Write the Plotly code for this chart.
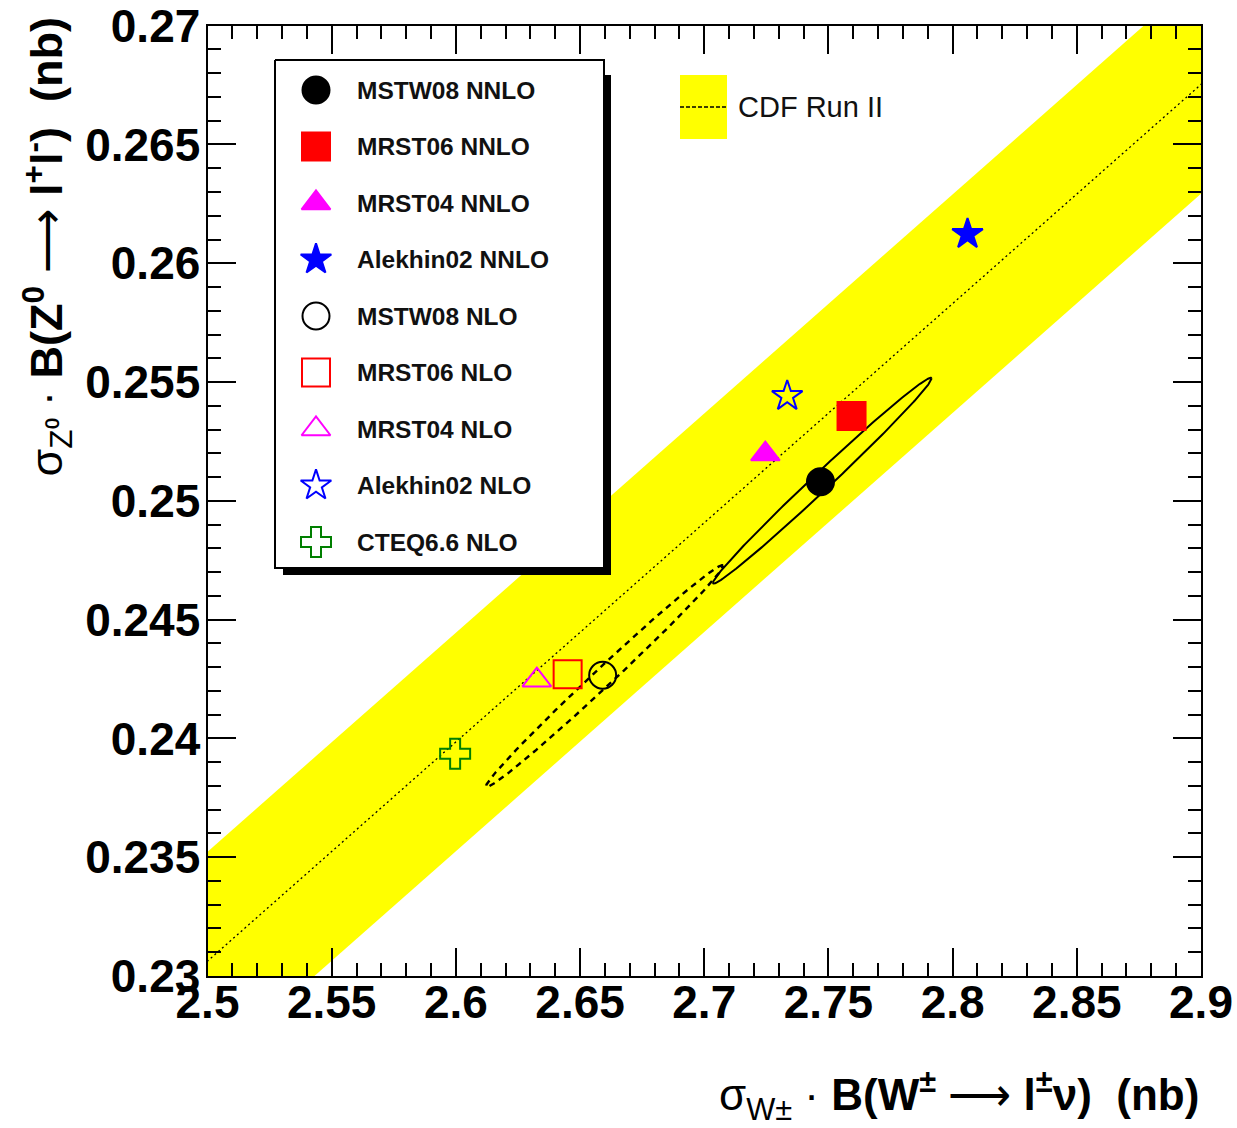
import numpy as np
import plotly.graph_objects as go

W, H = 1237, 1128

# ---------------- data ----------------
pdf_labels = ["MSTW08 NNLO", "MRST06 NNLO", "MRST04 NNLO", "Alekhin02 NNLO",
              "MSTW08 NLO", "MRST06 NLO", "MRST04 NLO", "Alekhin02 NLO", "CTEQ6.6 NLO"]
sigma_w = [2.7468, 2.7593, 2.7246, 2.8060, 2.6591, 2.6450, 2.6326, 2.7334, 2.5997]
sigma_z = [0.25080, 0.25357, 0.25197, 0.26123, 0.24266, 0.24270, 0.24245, 0.25441, 0.23936]

# CDF Run II: ratio line sigma_Z*B = sigma_W*B / R, with band half-width in sigma_Z*B
cdf_x_ends = [2.45, 2.95]
cdf_ratio_central = 10.84
cdf_band_halfwidth = 0.0046

# MSTW08 uncertainty ellipses: centre x, centre y, sigma x, sigma y, correlation
ell_nnlo = [2.7475, 0.25085, 0.0440, 0.00433, 0.9930]
ell_nlo = [2.6598, 0.24262, 0.0477, 0.00467, 0.9935]

x_tick_vals = [2.5, 2.55, 2.6, 2.65, 2.7, 2.75, 2.8, 2.85, 2.9]
x_tick_text = ["2.5", "2.55", "2.6", "2.65", "2.7", "2.75", "2.8", "2.85", "2.9"]
y_tick_vals = [0.23, 0.235, 0.24, 0.245, 0.25, 0.255, 0.26, 0.265, 0.27]
y_tick_text = ["0.23", "0.235", "0.24", "0.245", "0.25", "0.255", "0.26", "0.265", "0.27"]

# ---------------- styles ----------------
symbols = ["circle", "square", "triangle-up", "star", "circle-open", "square-open",
           "triangle-up-open", "star-open", "cross-open"]
colors = ["black", "#ff0000", "#ff00ff", "#0000ff", "black", "#ff0000", "#ff00ff",
          "#0000ff", "#007f00"]
msizes = [27, 28, 25, 23, 27, 28, 25, 23, 25]

FONT = "Liberation Sans, Arial, Helvetica, sans-serif"

# frame in pixels
FX0, FX1 = 207.5, 1201.0
FY0, FY1 = 25.7, 976.0

fig = go.Figure()

# CDF band
xb = np.array(cdf_x_ends)
yc = xb / cdf_ratio_central
band_x = list(xb) + list(xb[::-1]) + [xb[0]]
band_y = list(yc + cdf_band_halfwidth) + list(yc[::-1] - cdf_band_halfwidth) + [yc[0] + cdf_band_halfwidth]
fig.add_trace(go.Scatter(x=band_x, y=band_y, fill="toself", fillcolor="#ffff00",
                         line=dict(width=0), mode="lines", showlegend=False, hoverinfo="skip"))
fig.add_trace(go.Scatter(x=list(xb), y=list(yc), mode="lines",
                         line=dict(color="black", width=1.3, dash="2px,3px"),
                         showlegend=False, hoverinfo="skip"))


def ellipse(p):
    cx, cy, sx, sy, rho = p
    t = np.linspace(0, 2 * np.pi, 300)
    return cx + sx * np.cos(t), cy + sy * (rho * np.cos(t) + np.sqrt(1 - rho ** 2) * np.sin(t))


ex, ey = ellipse(ell_nlo)
fig.add_trace(go.Scatter(x=ex, y=ey, mode="lines", line=dict(color="black", width=2.4, dash="6px,5px"),
                         showlegend=False, hoverinfo="skip"))
ex, ey = ellipse(ell_nnlo)
fig.add_trace(go.Scatter(x=ex, y=ey, mode="lines", line=dict(color="black", width=2),
                         showlegend=False, hoverinfo="skip"))

for i in range(len(pdf_labels)):
    fig.add_trace(go.Scatter(
        x=[sigma_w[i]], y=[sigma_z[i]], mode="markers", name=pdf_labels[i],
        marker=dict(symbol=symbols[i], size=msizes[i], color=colors[i],
                    line=dict(color=colors[i], width=2)),
        showlegend=False))

# ---------------- manual legend (pixel overlay subplot) ----------------
LX0, LX1, LY0, LY1 = 275, 604, 60, 568
SH = 7
fig.add_trace(go.Scatter(x=[LX0 + SH + 1, LX1 + SH, LX1 + SH, LX0 + SH + 1, LX0 + SH + 1],
                         y=[LY0 + SH + 8, LY0 + SH + 8, LY1 + SH, LY1 + SH, LY0 + SH + 8],
                         xaxis="x2", yaxis="y2", fill="toself", fillcolor="black",
                         line=dict(width=0), mode="lines", showlegend=False, hoverinfo="skip"))
fig.add_trace(go.Scatter(x=[LX0, LX1, LX1, LX0, LX0], y=[LY0, LY0, LY1, LY1, LY0],
                         xaxis="x2", yaxis="y2", fill="toself", fillcolor="white",
                         line=dict(color="black", width=2), mode="lines",
                         showlegend=False, hoverinfo="skip"))
row0, dy = 90, 56.5
for i in range(len(pdf_labels)):
    yy = row0 + i * dy
    fig.add_trace(go.Scatter(
        x=[316], y=[yy], xaxis="x2", yaxis="y2", mode="markers",
        marker=dict(symbol=symbols[i], size=msizes[i], color=colors[i],
                    line=dict(color=colors[i], width=2)),
        showlegend=False, hoverinfo="skip"))
    fig.add_annotation(x=355, y=yy, xref="x2", yref="y2", text=pdf_labels[i],
                       showarrow=False, xanchor="left", yanchor="middle",
                       font=dict(family=FONT, size=24.5, color="#111111", weight="bold"))

# CDF legend
fig.add_trace(go.Scatter(x=[680, 727, 727, 680, 680], y=[75, 75, 139, 139, 75],
                         xaxis="x2", yaxis="y2", fill="toself", fillcolor="#ffff00",
                         line=dict(width=0), mode="lines", showlegend=False, hoverinfo="skip"))
fig.add_trace(go.Scatter(x=[680, 727], y=[107, 107], xaxis="x2", yaxis="y2", mode="lines",
                         line=dict(color="black", width=1.5, dash="4px,2px"),
                         showlegend=False, hoverinfo="skip"))
fig.add_annotation(x=736, y=107, xref="x2", yref="y2", text="CDF Run II", showarrow=False,
                   xanchor="left", yanchor="middle",
                   font=dict(family=FONT, size=29, color="#111111"))

# ---------------- axis titles ----------------
fig.add_annotation(x=FX1 / W, y=1 - 1095 / H, xref="paper", yref="paper",
                   text="σ<sub>W±</sub> · <b>B(W<sup>±</sup></b> ⟶ <b>l<sup>±</sup>ν)  (nb)</b>",
                   showarrow=False, xanchor="right", yanchor="middle",
                   font=dict(family=FONT, size=44, color="black"))
fig.add_annotation(x=46 / W, y=1 - 16 / H, xref="paper", yref="paper",
                   text="σ<sub>Z⁰</sub> · <b>B(Z<sup>0</sup></b> ⟶ <b>l<sup>+</sup>l<sup>-</sup>)  (nb)</b>",
                   showarrow=False, xanchor="center", yanchor="top", textangle=-90,
                   font=dict(family=FONT, size=45, color="black"))

axis_common = dict(ticks="inside", ticklen=28, tickwidth=2, tickcolor="black",
                   showline=True, linewidth=2, linecolor="black", mirror="allticks",
                   showgrid=False, zeroline=False, fixedrange=True, automargin=False,
                   ticklabeloverflow="allow",
                   tickfont=dict(family=FONT, size=46, color="black", weight="bold"))

fig.update_layout(
    width=W, height=H, margin=dict(l=0, r=0, t=0, b=0, autoexpand=False),
    paper_bgcolor="white", plot_bgcolor="rgba(0,0,0,0)",
    showlegend=False,
    xaxis=dict(domain=[FX0 / W, FX1 / W], range=[2.5 - 1e-7, 2.9 + 1e-7], anchor="y",
               tickmode="array", tickvals=x_tick_vals, ticktext=x_tick_text,
               ticklabelstandoff=-15,
               minor=dict(tickmode="linear", tick0=2.5, dtick=0.01, ticks="inside",
                          ticklen=13, tickwidth=2, tickcolor="black", showgrid=False),
               **axis_common),
    yaxis=dict(domain=[1 - FY1 / H, 1 - FY0 / H], range=[0.23 - 1e-8, 0.27 + 1e-8], anchor="x",
               tickmode="array", tickvals=y_tick_vals, ticktext=y_tick_text,
               ticklabelstandoff=-4,
               minor=dict(tickmode="linear", tick0=0.23, dtick=0.001, ticks="inside",
                          ticklen=13, tickwidth=2, tickcolor="black", showgrid=False),
               **axis_common),
    xaxis2=dict(domain=[0, 1], range=[0, W], anchor="y2", visible=False, fixedrange=True,
                automargin=False),
    yaxis2=dict(domain=[0, 1], range=[H, 0], anchor="x2", visible=False, fixedrange=True,
                automargin=False),
)

fig.write_html("out.html")
